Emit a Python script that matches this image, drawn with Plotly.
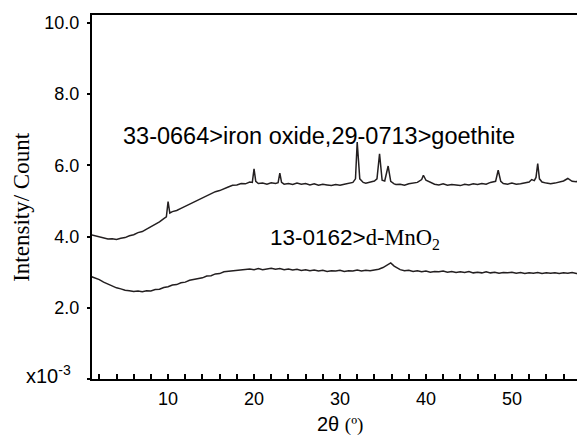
import plotly.graph_objects as go

upper_2theta = [1.0, 1.5, 2.0, 2.5, 3.0, 3.5, 4.0, 4.5, 5.0, 5.5, 6.0, 6.5, 7.0, 7.5, 8.0, 8.5, 9.0, 9.5, 9.8, 10.0, 10.2, 10.5, 11.0, 11.5, 12.0, 12.5, 13.0, 13.5, 14.0, 14.5, 15.0, 15.5, 16.0, 16.5, 17.0, 17.5, 18.0, 18.5, 19.0, 19.5, 19.8, 20.0, 20.2, 20.5, 21.0, 21.5, 22.0, 22.5, 22.8, 23.0, 23.2, 23.5, 24.0, 24.5, 25.0, 25.5, 26.0, 26.5, 27.0, 27.5, 28.0, 28.5, 29.0, 29.5, 30.0, 30.5, 31.0, 31.5, 31.8, 32.0, 32.3, 32.7, 33.0, 33.5, 34.0, 34.3, 34.6, 34.9, 35.2, 35.6, 35.9, 36.3, 36.5, 37.0, 37.5, 38.0, 38.5, 39.0, 39.5, 39.7, 40.0, 40.5, 41.0, 41.5, 42.0, 42.5, 43.0, 43.5, 44.0, 44.5, 45.0, 45.5, 46.0, 46.5, 47.0, 47.5, 48.1, 48.4, 48.7, 49.0, 49.5, 50.0, 50.5, 51.0, 51.5, 52.0, 52.3, 52.6, 52.8, 53.0, 53.2, 53.5, 54.0, 54.5, 55.0, 55.5, 56.0, 56.5, 57.0, 57.5, 58.0, 58.5]
upper_counts = [4.05, 4.02, 3.99, 3.96, 3.93, 3.94, 3.92, 3.95, 3.97, 4.02, 4.05, 4.11, 4.14, 4.21, 4.27, 4.34, 4.41, 4.50, 4.55, 4.98, 4.66, 4.70, 4.73, 4.79, 4.85, 4.91, 4.96, 5.03, 5.07, 5.14, 5.19, 5.26, 5.29, 5.35, 5.39, 5.44, 5.45, 5.49, 5.48, 5.53, 5.52, 5.90, 5.55, 5.49, 5.50, 5.47, 5.51, 5.49, 5.51, 5.78, 5.52, 5.47, 5.49, 5.46, 5.50, 5.47, 5.49, 5.45, 5.48, 5.44, 5.47, 5.45, 5.43, 5.46, 5.44, 5.47, 5.49, 5.52, 5.62, 6.65, 5.62, 5.52, 5.50, 5.53, 5.56, 5.62, 6.32, 5.58, 5.56, 5.98, 5.55, 5.48, 5.46, 5.47, 5.44, 5.48, 5.50, 5.52, 5.60, 5.72, 5.58, 5.52, 5.47, 5.45, 5.48, 5.44, 5.46, 5.45, 5.43, 5.47, 5.45, 5.48, 5.46, 5.49, 5.47, 5.52, 5.55, 5.86, 5.55, 5.49, 5.47, 5.50, 5.47, 5.48, 5.50, 5.53, 5.60, 5.57, 5.66, 6.05, 5.62, 5.53, 5.50, 5.48, 5.50, 5.52, 5.56, 5.63, 5.55, 5.54, 5.61, 5.58]

lower_2theta = [1.0, 1.5, 2.0, 2.5, 3.0, 3.5, 4.0, 4.5, 5.0, 5.5, 6.0, 6.5, 7.0, 7.5, 8.0, 8.5, 9.0, 9.5, 10.0, 10.5, 11.0, 11.5, 12.0, 12.5, 13.0, 13.5, 14.0, 14.5, 15.0, 15.5, 16.0, 16.5, 17.0, 17.5, 18.0, 18.5, 19.0, 19.5, 20.0, 20.5, 21.0, 21.5, 22.0, 22.5, 23.0, 23.5, 24.0, 24.5, 25.0, 25.5, 26.0, 26.5, 27.0, 27.5, 28.0, 28.5, 29.0, 29.5, 30.0, 30.5, 31.0, 31.5, 32.0, 32.5, 33.0, 33.5, 34.0, 34.5, 35.0, 35.5, 35.9, 36.3, 36.7, 37.0, 37.5, 38.0, 38.5, 39.0, 39.5, 40.0, 40.5, 41.0, 41.5, 42.0, 42.5, 43.0, 43.5, 44.0, 44.5, 45.0, 45.5, 46.0, 46.5, 47.0, 47.5, 48.0, 48.5, 49.0, 49.5, 50.0, 50.5, 51.0, 51.5, 52.0, 52.5, 53.0, 53.5, 54.0, 54.5, 55.0, 55.5, 56.0, 56.5, 57.0, 57.5, 58.0, 58.5]
lower_counts = [2.88, 2.84, 2.79, 2.72, 2.66, 2.60, 2.56, 2.53, 2.49, 2.48, 2.46, 2.47, 2.45, 2.48, 2.47, 2.51, 2.52, 2.57, 2.59, 2.64, 2.65, 2.70, 2.72, 2.77, 2.79, 2.83, 2.84, 2.89, 2.90, 2.95, 2.96, 3.01, 3.02, 3.05, 3.04, 3.07, 3.06, 3.09, 3.07, 3.10, 3.07, 3.09, 3.11, 3.08, 3.10, 3.07, 3.09, 3.06, 3.08, 3.05, 3.07, 3.04, 3.06, 3.03, 3.05, 3.02, 3.04, 3.03, 3.05, 3.02, 3.04, 3.03, 3.06, 3.03, 3.05, 3.04, 3.05, 3.08, 3.13, 3.19, 3.26, 3.17, 3.10, 3.07, 3.04, 3.05, 3.02, 3.04, 3.01, 3.03, 3.00, 3.02, 3.01, 3.03, 3.00, 3.02, 2.99, 3.01, 2.99, 3.02, 2.98, 3.00, 2.98, 3.01, 2.98, 3.00, 2.97, 2.99, 2.98, 3.00, 2.97, 2.99, 2.96, 2.98, 2.97, 2.99, 2.96, 2.98, 2.97, 2.98, 2.96, 2.98, 2.97, 2.99, 2.96, 2.98, 2.97]

y_tickvals = [0, 2, 4, 6, 8, 10]
y_ticktext = [" ", "2.0", "4.0", "6.0", "8.0", "10.0"]
y_scale_label = "x10<sup>-3</sup>"
x_tickvals = [10, 20, 30, 40, 50]

line_color = "#231f20"

fig = go.Figure()
fig.add_trace(go.Scatter(x=upper_2theta, y=upper_counts, mode="lines",
                         line=dict(color=line_color, width=1.5), showlegend=False))
fig.add_trace(go.Scatter(x=lower_2theta, y=lower_counts, mode="lines",
                         line=dict(color=line_color, width=1.5), showlegend=False))

fig.update_layout(
    width=577, height=429,
    margin=dict(l=84, r=0, t=7, b=58),
    plot_bgcolor="white", paper_bgcolor="white",
    font=dict(family="Liberation Sans, Arial, sans-serif", color="black"),
    xaxis=dict(range=[1.15, 58.5], tickvals=x_tickvals, showgrid=False, zeroline=False,
               showline=True, linecolor="black", linewidth=2, mirror=True,
               ticks="inside", ticklen=5, tickwidth=2, tickcolor="black",
               minor=dict(dtick=2, tick0=0, ticks="inside", ticklen=5, tickwidth=2, tickcolor="black"),
               tickfont=dict(size=18, family="Liberation Sans, Arial"), ticklabelstandoff=2),
    yaxis=dict(range=[0, 10.22], tickvals=y_tickvals, ticktext=y_ticktext, showgrid=False,
               zeroline=False, showline=True, linecolor="black", linewidth=2,
               ticks="outside", ticklen=3, tickwidth=2, tickcolor="black",
               tickfont=dict(size=18, family="Liberation Sans, Arial"), ticklabelstandoff=4),
    annotations=[
        dict(x=4.5, y=6.83, xref="x", yref="y", xanchor="left", yanchor="middle",
             text="33-0664>iron oxide,29-0713>goethite", showarrow=False,
             font=dict(size=23.5, family="Liberation Sans, Arial")),
        dict(x=21.6, y=3.93, xref="x", yref="y", xanchor="left", yanchor="middle",
             text="13-0162><span style='font-family:Liberation Serif'>d-MnO<sub>2</sub></span>",
             showarrow=False, font=dict(size=22.5, family="Liberation Sans, Arial")),
        dict(x=-0.038, y=0.012, xref="paper", yref="paper", xanchor="right", yanchor="middle",
             text=y_scale_label, showarrow=False,
             font=dict(size=20, family="Liberation Sans, Arial")),
        dict(x=0.503, y=-0.124, xref="paper", yref="paper", xanchor="center", yanchor="middle",
             text="2θ <span style='font-family:Liberation Serif;font-size:19px'>(º)</span>",
             showarrow=False, font=dict(size=20, family="Liberation Sans, Arial")),
        dict(x=-0.142, y=0.473, xref="paper", yref="paper", xanchor="center", yanchor="middle",
             text="Intensity/ Count", textangle=-90, showarrow=False,
             font=dict(size=23, family="Liberation Serif, Times New Roman, serif")),
    ],
)

fig.write_html("out.html")
